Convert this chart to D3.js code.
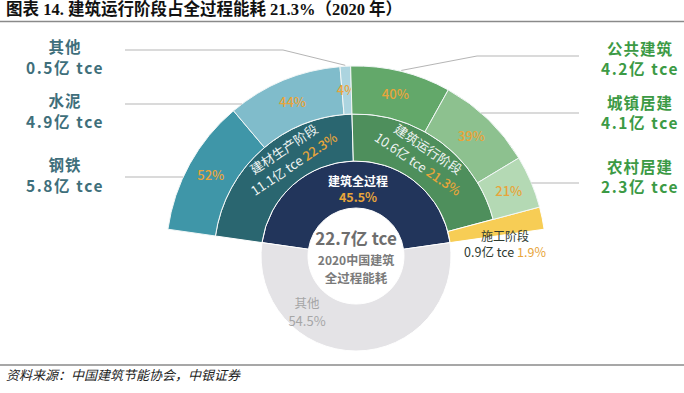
<!DOCTYPE html>
<html><head><meta charset="utf-8">
<script src="https://cdn.jsdelivr.net/npm/d3@7/dist/d3.min.js"></script>
<style>
body{margin:0;background:#fff;}
svg{display:block;}
text{font-family:"Noto Sans CJK SC","Noto Sans",sans-serif;}
</style></head>
<body><svg id="c" width="684" height="393"></svg>
<script>
// ---- data ----
const totalAmount = 22.7;
const innerCats = ["建筑全过程", "其他"];
const innerVals = [45.5, 54.5];
const stageCats = ["建材生产阶段", "建筑运行阶段", "施工阶段"];
const stageVals = [22.3, 21.3, 1.9];
const stageAmts = [11.1, 10.6, 0.9];
const materialCats = ["钢铁", "水泥", "其他"];
const materialShare = [52, 44, 4];
const materialAmts = [5.8, 4.9, 0.5];
const operCats = ["公共建筑", "城镇居建", "农村居建"];
const operShare = [40, 39, 21];
const operAmts = [4.2, 4.1, 2.3];

// ---- layout ----
const svg = d3.select("#c");
const cx = 356, cy = 256;
const rHole = 48, rInner = 95, rMid = 142, rOuter = 190;
const orange = "#e8a53a";
const angle = d3.scaleLinear().domain([0, 100]).range([0, 2 * Math.PI]);

// title
svg.append("text").attr("x", 6).attr("y", 15)
  .style("font-family", '"Liberation Serif","Noto Sans CJK SC",serif')
  .style("font-weight", "bold").style("font-size", "16.5px").attr("fill", "#111")
  .text("图表 14. 建筑运行阶段占全过程能耗 21.3%（2020 年）");
svg.append("line").attr("x1", 0).attr("x2", 684).attr("y1", 21.5).attr("y2", 21.5)
  .attr("stroke", "#8a8a8a").attr("stroke-width", 1.5);
svg.append("line").attr("x1", 0).attr("x2", 684).attr("y1", 365).attr("y2", 365)
  .attr("stroke", "#8a8a8a").attr("stroke-width", 1.5);
svg.append("text").attr("x", 6).attr("y", 380)
  .style("font-style", "italic").style("font-size", "13px").attr("fill", "#222")
  .text("资料来源：中国建筑节能协会，中银证券");

const g = svg.append("g").attr("transform", `translate(${cx},${cy})`);
const arc = d3.arc();

// inner ring
const innerSpan = angle(innerVals[0]);
const innerStart = -innerSpan / 2;
const pie = d3.pie().sort(null).value(d => d)
  .startAngle(innerStart).endAngle(innerStart + 2 * Math.PI);
const innerArcs = pie(innerVals);
const innerColors = ["#22355b", "#e4e3e6"];
g.selectAll("path.inner").data(innerArcs).enter().append("path")
  .attr("d", d => arc({innerRadius: rHole, outerRadius: rInner, startAngle: d.startAngle, endAngle: d.endAngle}))
  .attr("fill", (d, i) => innerColors[i]).attr("stroke", "#fff").attr("stroke-width", 1);

// stages
const stageArcs = [];
let a0 = innerStart;
stageVals.forEach((v, i) => {
  const a1 = a0 + angle(v);
  stageArcs.push({startAngle: a0, endAngle: a1, i});
  a0 = a1;
});
const stageColors = ["#2a6670", "#4e8f5c", "#f7cd55"];
stageArcs.forEach((d, i) => {
  const ro = i === 2 ? rOuter : rMid;
  g.append("path")
    .attr("d", arc({innerRadius: rInner, outerRadius: ro, startAngle: d.startAngle, endAngle: d.endAngle}))
    .attr("fill", stageColors[i]).attr("stroke", "#fff").attr("stroke-width", 1);
});

// outer sub-rings
function subArcs(parent, shares) {
  const tot = d3.sum(shares);
  const sc = d3.scaleLinear().domain([0, tot]).range([parent.startAngle, parent.endAngle]);
  let c = 0;
  return shares.map(s => { const o = {startAngle: sc(c), endAngle: sc(c + s), share: s}; c += s; return o; });
}
const matArcs = subArcs(stageArcs[0], materialShare);
const opArcs = subArcs(stageArcs[1], operShare);
const matColors = ["#3f96a8", "#80bccb", "#acd4df"];
const opColors = ["#63a86a", "#8dc18f", "#b4d9b4"];
function drawOuter(arcs, colors) {
  arcs.forEach((d, i) => {
    const dd = {innerRadius: rMid, outerRadius: rOuter, startAngle: d.startAngle, endAngle: d.endAngle};
    g.append("path").attr("d", arc(dd)).attr("fill", colors[i]).attr("stroke", "#f2f7f7").attr("stroke-width", 1);
    const c = arc.centroid(dd);
    g.append("text").attr("x", c[0]).attr("y", c[1]).attr("dy", "0.35em")
      .attr("text-anchor", "middle").style("font-size", "13px").style("font-weight", "500")
      .attr("fill", orange).text(d.share + "%");
  });
}
drawOuter(matArcs, matColors);
drawOuter(opArcs, opColors);

// leader lines
const lineColor = "#b5b5b5";
function circX(y, side) { const dy = y - cy; return cx + side * Math.sqrt(rOuter * rOuter - dy * dy); }
function polar(a, r) { return [cx + r * Math.sin(a), cy - r * Math.cos(a)]; }
const leftYs = [50, 104, 177];   // 其他, 水泥, 钢铁
const rightYs = [56, 113, 183];  // 公共, 城镇, 农村
{
  const m = (matArcs[2].startAngle + matArcs[2].endAngle) / 2;
  const p = polar(m, rOuter + 1);
  svg.append("polyline").attr("points", `125,${leftYs[0]} 283,${leftYs[0]} ${p[0]},${p[1]}`)
    .attr("fill", "none").attr("stroke", lineColor).attr("stroke-width", 1);
}
[1, 2].forEach(k => {
  svg.append("line").attr("x1", 125).attr("x2", circX(leftYs[k], -1)).attr("y1", leftYs[k]).attr("y2", leftYs[k])
    .attr("stroke", lineColor).attr("stroke-width", 1);
});
{
  const m = (opArcs[0].startAngle + opArcs[0].endAngle) / 2;
  const p = polar(m, rOuter + 1);
  svg.append("polyline").attr("points", `579,${rightYs[0]} 477,${rightYs[0]} ${p[0]},${p[1]}`)
    .attr("fill", "none").attr("stroke", lineColor).attr("stroke-width", 1);
}
[1, 2].forEach(k => {
  svg.append("line").attr("x1", circX(rightYs[k], 1)).attr("x2", 579).attr("y1", rightYs[k]).attr("y2", rightYs[k])
    .attr("stroke", lineColor).attr("stroke-width", 1);
});

// side labels
const leftOrder = [2, 1, 0]; // 其他, 水泥, 钢铁 from top
const nameY = [48, 102, 166];
leftOrder.forEach((idx, k) => {
  const t = svg.append("text").attr("x", 65).attr("text-anchor", "middle")
    .style("font-weight", "bold").style("font-size", "15.5px").attr("fill", "#3f6f7b");
  t.append("tspan").attr("x", 65).attr("y", nameY[k] + 5).style("letter-spacing", "1px").text(materialCats[idx]);
  t.append("tspan").attr("x", 65).attr("y", nameY[k] + 26).style("letter-spacing", "1.6px").text(materialAmts[idx] + "亿 tce");
});
operCats.forEach((name, k) => {
  const t = svg.append("text").attr("x", 640).attr("text-anchor", "middle")
    .style("font-weight", "bold").style("font-size", "15.5px").attr("fill", "#3c9a45");
  t.append("tspan").attr("x", 640).attr("y", nameY[k] + 7).style("letter-spacing", "1px").text(name);
  t.append("tspan").attr("x", 640).attr("y", nameY[k] + 27).style("letter-spacing", "1.6px").text(operAmts[k] + "亿 tce");
});

// stage labels (rotated, tangential)
const stageLabelAngles = [-34, 34];
[0, 1].forEach(i => {
  const a = stageLabelAngles[i];
  const p = polar(a * Math.PI / 180, 120);
  const lg = svg.append("g").attr("transform", `translate(${p[0]},${p[1]}) rotate(${a})`);
  lg.append("text").attr("text-anchor", "middle").attr("y", -4)
    .style("font-size", "13px").attr("fill", "#eef4f3").text(stageCats[i]);
  const t2 = lg.append("text").attr("text-anchor", "middle").attr("y", 14)
    .style("font-size", "13px").attr("fill", "#eef4f3");
  t2.append("tspan").text(stageAmts[i] + "亿 tce ");
  t2.append("tspan").attr("fill", orange).style("font-weight", "500").text(stageVals[i] + "%");
});
// 施工 label
{
  svg.append("text").attr("x", 505).attr("y", 240.5).attr("text-anchor", "middle")
    .style("font-size", "12px").attr("fill", "#2e3a30").text(stageCats[2]);
  const t2 = svg.append("text").attr("x", 505).attr("y", 257).attr("text-anchor", "middle")
    .style("font-size", "12.5px").attr("fill", "#2e3a30");
  t2.append("tspan").text(stageAmts[2] + "亿 tce ");
  t2.append("tspan").attr("fill", orange).text(stageVals[2] + "%");
}

// inner labels
svg.append("text").attr("x", cx + 2).attr("y", 185.5).attr("text-anchor", "middle")
  .style("font-size", "12px").style("font-weight", "bold").attr("fill", "#fff").text(innerCats[0]);
svg.append("text").attr("x", cx + 2).attr("y", 202).attr("text-anchor", "middle")
  .style("font-size", "12.5px").style("font-weight", "bold").attr("fill", orange).text(innerVals[0] + "%");
svg.append("text").attr("x", 307).attr("y", 308).attr("text-anchor", "middle")
  .style("font-size", "12.5px").attr("fill", "#a6a6a6").text(innerCats[1]);
svg.append("text").attr("x", 307).attr("y", 325.5).attr("text-anchor", "middle")
  .style("font-size", "13px").attr("fill", "#a6a6a6").text(innerVals[1] + "%");

// hole
svg.append("text").attr("x", cx).attr("y", 245).attr("text-anchor", "middle")
  .style("font-size", "17px").style("font-weight", "bold").attr("fill", "#6e6e6e").text(totalAmount + "亿 tce");
svg.append("text").attr("x", cx).attr("y", 264.5).attr("text-anchor", "middle")
  .style("font-size", "12px").style("font-weight", "bold").attr("fill", "#7a7a7a").text("2020中国建筑");
svg.append("text").attr("x", cx).attr("y", 282.5).attr("text-anchor", "middle")
  .style("font-size", "12.5px").style("font-weight", "bold").attr("fill", "#7a7a7a").text("全过程能耗");
</script></body></html>
